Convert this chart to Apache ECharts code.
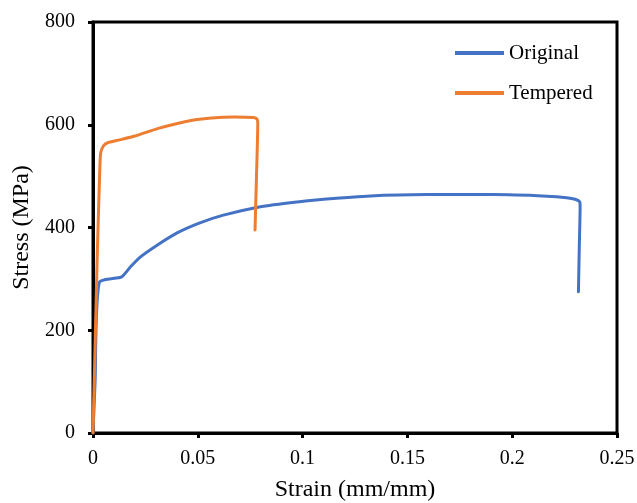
<!DOCTYPE html>
<html>
<head>
<meta charset="utf-8">
<script src="https://cdn.jsdelivr.net/npm/echarts@6/dist/echarts.min.js"></script>
<style>
  html, body { margin: 0; padding: 0; background: #fff; }
  #chart { width: 637px; height: 503px; }
</style>
</head>
<body>
<div id="chart"></div>
<script>
// Stress-strain curves (strain in mm/mm, stress in MPa)
const seriesNames = ['Original', 'Tempered'];

const strainOriginal = [0, 0.0010, 0.0030, 0.0137, 0.0180, 0.0224, 0.0304, 0.0399, 0.0510, 0.0622, 0.0781, 0.0940, 0.1100, 0.1306, 0.1590, 0.1910, 0.2165, 0.2260, 0.2300, 0.2322, 0.2324, 0.2320, 0.2316];
const stressOriginal = [0, 100, 293, 304, 324, 342, 365, 389, 409, 424, 439, 448, 455, 461, 464, 464, 461, 458, 455, 450, 440, 360, 275];

const strainTempered = [0, 0.0021, 0.0033, 0.0037, 0.0050, 0.0070, 0.0121, 0.0200, 0.0312, 0.0439, 0.0566, 0.0677, 0.0765, 0.0780, 0.0786, 0.0786, 0.0780, 0.0773];
const stressTempered = [0, 356, 520, 546, 559, 565, 570, 578, 593, 606, 613, 615, 614, 612, 606, 600, 500, 395];

const xTicks = [0, 0.05, 0.1, 0.15, 0.2, 0.25];
const yTicks = [0, 200, 400, 600, 800];

const colors = ['#4472C4', '#ED7D31'];
const font = 'Liberation Serif, Times New Roman, serif';

const pairs = (xs, ys) => xs.map((x, i) => [x, ys[i]]);

const chart = echarts.init(document.getElementById('chart'), null, { renderer: 'canvas' });

chart.setOption({
  animation: false,
  backgroundColor: '#fff',
  color: colors,
  grid: {
    left: 93, right: 20, top: 22, bottom: 70,
    outerBoundsMode: 'none',
    containLabel: false,
    show: true, borderColor: '#000', borderWidth: 3, backgroundColor: 'transparent'
  },
  legend: {
    orient: 'vertical',
    left: 450,
    top: 37,
    itemWidth: 49,
    itemHeight: 4,
    itemGap: 18,
    icon: 'rect',
    data: seriesNames,
    textStyle: { fontFamily: font, fontSize: 21, color: '#000', lineHeight: 22 }
  },
  xAxis: {
    type: 'value',
    min: xTicks[0],
    max: xTicks[xTicks.length - 1],
    interval: xTicks[1] - xTicks[0],
    name: 'Strain (mm/mm)',
    nameLocation: 'middle',
    nameGap: 45,
    nameTextStyle: { fontFamily: font, fontSize: 24, color: '#000' },
    axisLine: { show: true, lineStyle: { color: '#000', width: 3 } },
    axisTick: { show: true, inside: false, length: 5, lineStyle: { color: '#000', width: 3 } },
    axisLabel: { fontFamily: font, fontSize: 20, color: '#000', margin: 16,
      formatter: v => String(parseFloat(v.toFixed(2))) },
    splitLine: { show: false }
  },
  yAxis: {
    type: 'value',
    min: yTicks[0],
    max: yTicks[yTicks.length - 1],
    interval: yTicks[1] - yTicks[0],
    name: 'Stress (MPa)',
    nameLocation: 'middle',
    nameGap: 54,
    nameTextStyle: { fontFamily: font, fontSize: 24, color: '#000' },
    axisLine: { show: true, lineStyle: { color: '#000', width: 3 } },
    axisTick: { show: true, inside: false, length: 5, lineStyle: { color: '#000', width: 3 } },
    axisLabel: { fontFamily: font, fontSize: 20, color: '#000', margin: 18 },
    splitLine: { show: false }
  },
  series: [
    {
      name: seriesNames[0],
      type: 'line',
      data: pairs(strainOriginal, stressOriginal),
      showSymbol: false,
      smooth: 0.2,
      lineStyle: { width: 3, color: colors[0], cap: 'round', join: 'round' },
      itemStyle: { color: colors[0] }
    },
    {
      name: seriesNames[1],
      type: 'line',
      data: pairs(strainTempered, stressTempered),
      showSymbol: false,
      smooth: 0.2,
      lineStyle: { width: 3, color: colors[1], cap: 'round', join: 'round' },
      itemStyle: { color: colors[1] }
    }
  ]
});
</script>
</body>
</html>
